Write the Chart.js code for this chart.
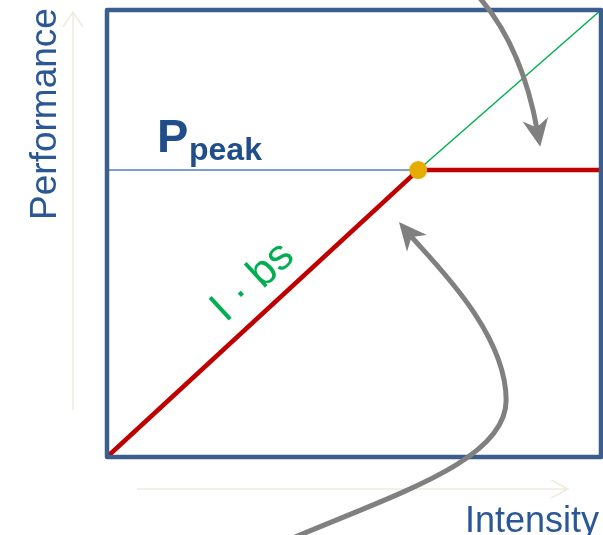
<!DOCTYPE html>
<html>
<head>
<meta charset="utf-8">
<script src="https://cdn.jsdelivr.net/npm/chart.js@4/dist/chart.umd.min.js"></script>
<style>
  body { margin: 0; background: #fff; }
  #wrap { width: 603px; height: 535px; }
</style>
</head>
<body>
<div id="wrap"><canvas id="roofline" width="603" height="535"></canvas></div>
<script>
// Datos del modelo roofline (unidades arbitrarias, ejes 0..10)
const intensity = [0, 6.3, 10];          // intensidad: origen, punto de quiebre, extremo
const roofline = [0, 6.42, 6.42];        // rendimiento alcanzable
const bandwidthX = [6.3, 10];            // prolongación de I · bs
const bandwidthY = [6.42, 10];
const peakX = [0, 6.3];                  // línea P_peak
const peakY = [6.42, 6.42];
const ridgeX = [6.3];
const ridgeY = [6.42];

// Flechas grises (en coordenadas de datos)
const arrowTop = [[7.49, 10.34], [8.40, 9.22], [8.77, 6.94]];
const arrowBottom = [
  [[3.66, -1.86], [5.89, -0.81], [8.08, -0.07], [8.08, 1.27]],
  [[8.08, 1.27], [8.08, 2.83], [6.54, 4.43], [5.91, 5.26]]
];

const toPoints = (xs, ys) => xs.map((x, i) => ({ x: x, y: ys[i] }));

const textBlue = '#2B5797';

// Plugin para el marco, flechas y textos
const decor = {
  id: 'decor',
  beforeDatasetsDraw(chart) {
    const c = chart.ctx;
    c.save();
    c.strokeStyle = '#EEEBDF';
    c.lineWidth = 1.5;
    // flecha vertical tenue
    c.beginPath();
    c.moveTo(73, 410); c.lineTo(73, 12);
    c.moveTo(63, 27); c.lineTo(73, 12); c.lineTo(83, 27);
    // flecha horizontal tenue
    c.moveTo(137, 489); c.lineTo(568, 489);
    c.moveTo(551, 480); c.lineTo(568, 489); c.lineTo(551, 498);
    c.stroke();
    c.restore();
  },
  afterDatasetsDraw(chart) {
    const c = chart.ctx;
    const a = chart.chartArea;
    const xs = chart.scales.x, ys = chart.scales.y;
    const px = p => [xs.getPixelForValue(p[0]), ys.getPixelForValue(p[1])];

    c.save();
    // marco
    c.strokeStyle = '#3B5E8C';
    c.lineWidth = 4.5;
    c.lineJoin = 'round';
    c.strokeRect(a.left, a.top, a.right - a.left, a.bottom - a.top);

    // flechas
    c.strokeStyle = '#808080';
    c.fillStyle = '#808080';
    c.lineWidth = 5;
    c.lineCap = 'butt';

    function head(tip, from, len, half) {
      const dx = tip[0] - from[0], dy = tip[1] - from[1];
      const d = Math.hypot(dx, dy);
      const ux = dx / d, uy = dy / d;
      const bx = tip[0] - ux * len, by = tip[1] - uy * len;
      c.beginPath();
      c.moveTo(tip[0], tip[1]);
      c.lineTo(bx - uy * half, by + ux * half);
      c.lineTo(tip[0] - ux * len * 0.7, tip[1] - uy * len * 0.7);
      c.lineTo(bx + uy * half, by - ux * half);
      c.closePath();
      c.fill();
    }

    // flecha superior
    const t0 = px(arrowTop[0]), t1 = px(arrowTop[1]), t2 = px(arrowTop[2]);
    c.beginPath();
    c.moveTo(t0[0], t0[1]);
    const e1 = [t2[0] - (t2[0] - t1[0]) * 0.15, t2[1] - (t2[1] - t1[1]) * 0.15];
    c.quadraticCurveTo(t1[0], t1[1], e1[0], e1[1]);
    c.stroke();
    head(t2, t1, 28, 13);

    // flecha inferior
    c.beginPath();
    arrowBottom.forEach((seg, i) => {
      const p = seg.map(px);
      if (i === 0) c.moveTo(p[0][0], p[0][1]);
      let end = p[3];
      if (i === arrowBottom.length - 1) {
        end = [p[3][0] - (p[3][0] - p[2][0]) * 0.35, p[3][1] - (p[3][1] - p[2][1]) * 0.35];
      }
      c.bezierCurveTo(p[1][0], p[1][1], p[2][0], p[2][1], end[0], end[1]);
    });
    c.stroke();
    const last = arrowBottom[arrowBottom.length - 1].map(px);
    head(last[3], last[2], 28, 13);

    // textos
    c.fillStyle = textBlue;
    c.font = '36px "Liberation Sans", Arial, sans-serif';
    c.textBaseline = 'alphabetic';
    c.textAlign = 'right';
    c.fillText('Intensity', 599, 532);

    c.save();
    c.font = '37px "Liberation Sans", Arial, sans-serif';
    c.translate(56, 114);
    c.rotate(-Math.PI / 2);
    c.textAlign = 'center';
    c.fillText('Performance', 0, 0);
    c.restore();

    c.fillStyle = '#1F4E8A';
    c.textAlign = 'left';
    c.font = 'bold 47px "Liberation Sans", Arial, sans-serif';
    c.fillText('P', 157, 152);
    c.font = 'bold 32px "Liberation Sans", Arial, sans-serif';
    c.fillText('peak', 189, 160);

    c.save();
    c.fillStyle = '#00B050';
    c.font = '43px "Liberation Sans", Arial, sans-serif';
    c.translate(261, 291);
    c.rotate(-42.6 * Math.PI / 180);
    c.textAlign = 'center';
    c.fillText('I \u00B7 bs', 0, 0);
    c.restore();

    c.restore();
  }
};

new Chart(document.getElementById('roofline'), {
  type: 'scatter',
  data: {
    datasets: [
      {
        label: 'ridge',
        data: toPoints(ridgeX, ridgeY),
        pointRadius: 9,
        pointBackgroundColor: '#E6AC00',
        pointBorderWidth: 0,
        showLine: false,
        clip: false
      },
      {
        label: 'roofline',
        data: toPoints(intensity, roofline),
        showLine: true,
        borderColor: '#C00000',
        borderWidth: 4.5,
        pointRadius: 0,
        clip: false
      },
      {
        label: 'I·bs',
        data: toPoints(bandwidthX, bandwidthY),
        showLine: true,
        borderColor: '#00B050',
        borderWidth: 1.5,
        pointRadius: 0,
        clip: false
      },
      {
        label: 'Ppeak',
        data: toPoints(peakX, peakY),
        showLine: true,
        borderColor: '#4F81BD',
        borderWidth: 1.5,
        pointRadius: 0,
        clip: false
      }
    ]
  },
  options: {
    responsive: false,
    animation: false,
    layout: { autoPadding: false, padding: { left: 107, top: 10, right: 2, bottom: 78 } },
    plugins: { legend: { display: false }, tooltip: { enabled: false } },
    scales: {
      x: { type: 'linear', min: 0, max: 10, display: false },
      y: { type: 'linear', min: 0, max: 10, display: false }
    }
  },
  plugins: [decor]
});
</script>
</body>
</html>
